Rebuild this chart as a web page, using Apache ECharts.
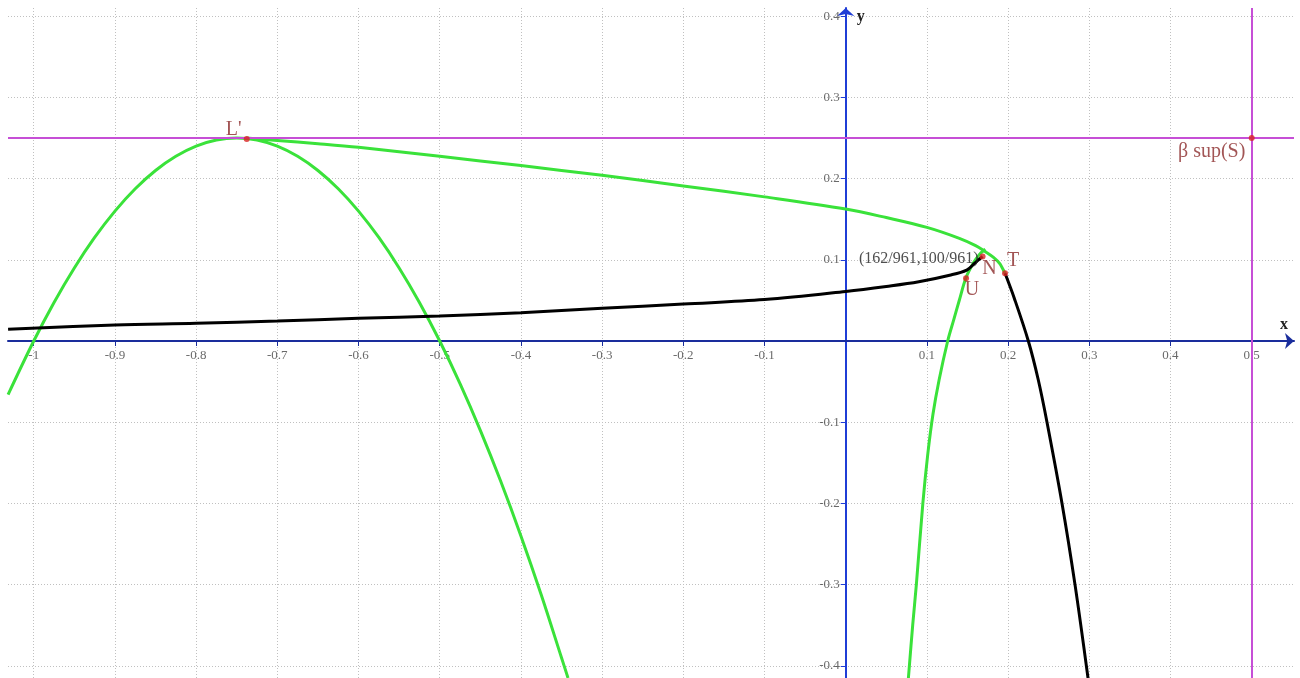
<!DOCTYPE html>
<html><head><meta charset="utf-8">
<script src="https://cdn.jsdelivr.net/npm/echarts@6/dist/echarts.min.js"></script>
<style>html,body{margin:0;padding:0;background:#fff}#c{width:1300px;height:678px}</style>
</head><body><div id="c"></div>
<script>
// ---- axes ----
const xRange = [-1.0317, 0.5521];
const yRange = [-0.4150, 0.4101];
const xTicks = [-1, -0.9, -0.8, -0.7, -0.6, -0.5, -0.4, -0.3, -0.2, -0.1, 0.1, 0.2, 0.3, 0.4, 0.5];
const yTicks = [-0.4, -0.3, -0.2, -0.1, 0.1, 0.2, 0.3, 0.4];

// ---- green curves ----
const greenLeftX = [-1.0316, -1.0, -0.975, -0.95, -0.925, -0.9, -0.875, -0.85, -0.825, -0.8, -0.775, -0.75, -0.725, -0.7, -0.675, -0.65, -0.625, -0.6, -0.575, -0.55, -0.525, -0.5, -0.475, -0.45, -0.425, -0.4, -0.375, -0.35, -0.342];
const greenLeftY = [-0.066, 0.0, 0.0475, 0.09, 0.1275, 0.16, 0.1875, 0.21, 0.2275, 0.24, 0.2475, 0.25, 0.2475, 0.24, 0.2275, 0.21, 0.1875, 0.16, 0.1275, 0.09, 0.0475, 0.0, -0.0525, -0.11, -0.1725, -0.24, -0.3125, -0.39, -0.415];

const greenUpperX = [-0.7385, -0.70, -0.65, -0.60, -0.50, -0.40, -0.30, -0.20, -0.10, 0.0, 0.05, 0.10, 0.14, 0.160, 0.172, 0.182, 0.190, 0.1962];
const greenUpperY = [0.2500, 0.2470, 0.2430, 0.2385, 0.2275, 0.2160, 0.2040, 0.1910, 0.1775, 0.1625, 0.1520, 0.1400, 0.1265, 0.1175, 0.1100, 0.1030, 0.0950, 0.0834];

const greenRightX = [0.0772, 0.0825, 0.0870, 0.0950, 0.1010, 0.1075, 0.1150, 0.1256, 0.1330, 0.140, 0.148, 0.157, 0.165, 0.172];
const greenRightY = [-0.415, -0.35, -0.30, -0.20, -0.14, -0.09, -0.048, 0.0, 0.026, 0.0505, 0.0776, 0.0957, 0.107, 0.113];

// ---- black curves ----
const blackLeftX = [-1.0316, -0.9, -0.8, -0.7, -0.6, -0.5, -0.4, -0.3, -0.2, -0.1, 0.0, 0.05, 0.09, 0.128, 0.149, 0.159, 0.1686];
const blackLeftY = [0.0144, 0.0197, 0.0218, 0.0246, 0.0280, 0.0308, 0.0349, 0.0402, 0.0456, 0.0510, 0.0610, 0.0672, 0.0730, 0.0810, 0.0874, 0.0960, 0.1041];

const blackRightX = [0.1962, 0.2075, 0.2249, 0.2372, 0.2479, 0.2664, 0.2824, 0.2984];
const blackRightY = [0.0834, 0.0530, 0.0, -0.048, -0.10, -0.20, -0.30, -0.415];

// ---- reference lines ----
const vLineX = 0.5;
const hLineY = 0.25;

// ---- points ----
const pointNames = ["L'", "β sup(S)", "N", "T", "U"];
const pointX = [-0.7377, 0.5, 0.16857, 0.1962, 0.1482];
const pointY = [0.2488, 0.25, 0.10406, 0.0834, 0.0772];
const captionText = "(162/961,100/961)";

const zip = (xs, ys) => xs.map((x, i) => [x, ys[i]]);

const SERIF = '"Liberation Serif", "DejaVu Serif", serif';
const GREEN = '#3ae23a';
const MAGENTA = '#c64fd6';
const BROWN = '#8b2a2a';
const XAXIS_C = '#1a2d9c';
const YAXIS_C = '#1f3dd6';

const labelStyles = {
  "L'":       { position: 'inside', offset: [-13, -9] },
  "β sup(S)": { position: 'inside', offset: [-40, 14] },
  "N":        { position: 'inside', offset: [7, 12] },
  "T":        { position: 'inside', offset: [8, -13] },
  "U":        { position: 'inside', offset: [6, 11] }
};

const pointData = pointNames.map((n, i) => ({
  value: [pointX[i], pointY[i]],
  name: n,
  label: Object.assign({ show: true, formatter: n, color: BROWN, fontFamily: SERIF, fontSize: 20 }, labelStyles[n])
}));
pointData.push({
  value: [pointX[2], pointY[2]],
  name: 'caption',
  symbolSize: 0,
  label: { show: true, formatter: captionText, position: 'left', distance: 4, offset: [0, 2], color: '#222', fontFamily: SERIF, fontSize: 16 }
});

const tickLabelStyle = { show: true, color: '#444', fontFamily: SERIF, fontSize: 13 };
const xTickLabelData = xTicks.map(t => ({
  value: [t, 0],
  label: Object.assign({ formatter: String(t), position: 'bottom', distance: 8 }, tickLabelStyle)
}));
const yTickLabelData = yTicks.map(t => ({
  value: [0, t],
  label: Object.assign({ formatter: String(t), position: 'left', distance: 6 }, tickLabelStyle)
}));

const chart = echarts.init(document.getElementById('c'), null, { renderer: 'canvas' });

const lineSeries = (name, xs, ys, color) => ({
  name, type: 'line', data: zip(xs, ys), smooth: 0.35, symbol: 'none',
  lineStyle: { color, width: 3 }, z: 3, silent: true, animation: false
});

chart.setOption({
  animation: false,
  backgroundColor: '#ffffff',
  grid: { left: 8, right: 6, top: 8, bottom: 0, containLabel: false, outerBoundsMode: 'none' },
  xAxis: {
    type: 'value', min: xRange[0], max: xRange[1],
    axisLine: { onZero: true, symbol: ['none', 'arrow'], symbolSize: [12, 9], lineStyle: { color: XAXIS_C, width: 2 } },
    axisTick: { show: true, length: 5, customValues: xTicks, lineStyle: { color: XAXIS_C, width: 1 } },
    axisLabel: { show: false, customValues: xTicks },
    splitLine: { show: true, lineStyle: { color: '#c0c0c0', type: [1, 2], width: 1 } }
  },
  yAxis: {
    type: 'value', min: yRange[0], max: yRange[1],
    axisLine: { onZero: true, symbol: ['none', 'arrow'], symbolSize: [13, 8], lineStyle: { color: YAXIS_C, width: 2 } },
    axisTick: { show: true, length: 5, customValues: yTicks, lineStyle: { color: YAXIS_C, width: 1 } },
    axisLabel: { show: false, customValues: yTicks },
    splitLine: { show: true, lineStyle: { color: '#c0c0c0', type: [1, 2], width: 1 } }
  },
  series: [
    lineSeries('greenLeft', greenLeftX, greenLeftY, GREEN),
    lineSeries('greenUpper', greenUpperX, greenUpperY, GREEN),
    lineSeries('greenRight', greenRightX, greenRightY, GREEN),
    lineSeries('blackLeft', blackLeftX, blackLeftY, '#000000'),
    lineSeries('blackRight', blackRightX, blackRightY, '#000000'),
    {
      name: 'refLines', type: 'line', data: [], z: 4,
      markLine: {
        silent: true, symbol: 'none', animation: false,
        label: { show: false },
        lineStyle: { color: MAGENTA, width: 2, type: 'solid' },
        data: [{ xAxis: vLineX }, { yAxis: hLineY }]
      }
    },
    { name: 'xTickLabels', type: 'scatter', data: xTickLabelData, symbolSize: 0, z: 2, silent: true },
    { name: 'yTickLabels', type: 'scatter', data: yTickLabelData, symbolSize: 0, z: 2, silent: true },
    {
      name: 'points', type: 'scatter', data: pointData, symbolSize: 6, z: 6,
      itemStyle: { color: '#d92424' }, silent: true
    }
  ]
});

const pX = chart.convertToPixel({ gridIndex: 0 }, [xRange[1], 0]);
const pY = chart.convertToPixel({ gridIndex: 0 }, [0, yRange[1]]);
chart.setOption({
  graphic: [
    { type: 'text', x: pX[0] - 10, y: pX[1] - 8, style: { text: 'x', font: 'bold 16px ' + SERIF, fill: '#222', align: 'center', verticalAlign: 'bottom' } },
    { type: 'text', x: pY[0] + 15, y: pY[1] + 1, style: { text: 'y', font: 'bold 16px ' + SERIF, fill: '#222', align: 'center', verticalAlign: 'top' } }
  ]
});
</script>
</body></html>
